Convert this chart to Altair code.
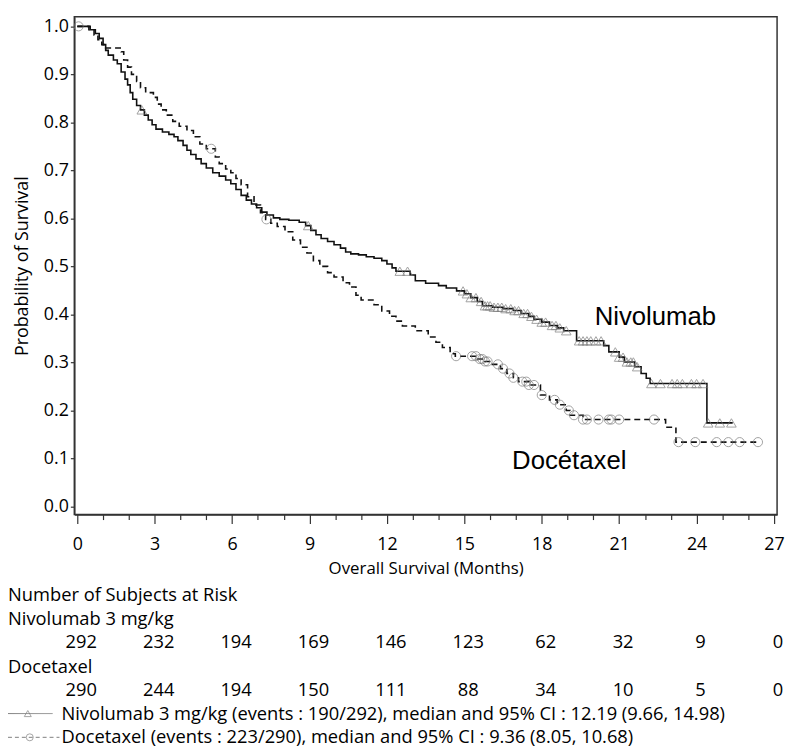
import altair as alt
import pandas as pd

# ---------------- data ----------------
nivo_t = [0, 0.5, 0.7, 0.85, 1.0, 1.1, 1.2, 1.4, 1.55, 1.7, 1.85, 1.95, 2.05, 2.15, 2.3, 2.45,
          2.6, 2.75, 2.9, 3.05, 3.3, 3.55, 3.75, 3.9, 4.1, 4.25, 4.4, 4.6, 4.8, 5.0, 5.25, 5.5,
          5.75, 5.95, 6.15, 6.35, 6.55, 6.75, 6.95, 7.15, 7.35, 7.6, 7.85, 8.2, 8.6, 8.85, 9.05,
          9.25, 9.45, 9.7, 9.95, 10.2, 10.4, 10.6, 10.9, 11.2, 11.5, 11.8, 12.0, 12.2, 12.35,
          12.9, 13.1, 13.5, 14.0, 14.3, 14.7, 15.0, 15.25, 15.5, 15.7, 16.1, 16.5, 16.9, 17.2,
          17.5, 17.7, 18.0, 18.3, 18.6, 18.85, 19.35, 20.4, 20.6, 21.0, 21.2, 21.6, 21.85, 22.05,
          22.2, 24.4]
nivo_s = [1.0, 0.993, 0.985, 0.975, 0.962, 0.95, 0.94, 0.93, 0.922, 0.905, 0.89, 0.878, 0.862,
          0.848, 0.835, 0.826, 0.815, 0.805, 0.795, 0.786, 0.78, 0.775, 0.77, 0.762, 0.752, 0.742,
          0.733, 0.724, 0.714, 0.705, 0.695, 0.688, 0.68, 0.672, 0.66, 0.648, 0.638, 0.63, 0.622,
          0.613, 0.607, 0.601, 0.598, 0.596, 0.592, 0.585, 0.575, 0.566, 0.558, 0.552, 0.545,
          0.538, 0.53, 0.526, 0.524, 0.52, 0.517, 0.512, 0.505, 0.497, 0.49, 0.482, 0.47, 0.465,
          0.46, 0.455, 0.449, 0.443, 0.435, 0.427, 0.418, 0.415, 0.412, 0.408, 0.402, 0.396, 0.39,
          0.384, 0.377, 0.372, 0.366, 0.345, 0.335, 0.322, 0.311, 0.301, 0.291, 0.277, 0.267,
          0.256, 0.174]
nivo_end = 25.4
nivo_cens = [2.5, 8.95, 12.5, 12.8, 14.95, 15.1, 15.25, 15.45, 15.65, 15.8, 15.9, 16.0, 16.15,
             16.3, 16.45, 16.6, 16.8, 16.95, 17.1, 17.3, 17.45, 17.6, 17.8, 18.0, 18.15, 18.4,
             18.55, 18.7, 18.95, 19.45, 19.6, 19.75, 19.9, 20.1, 20.3, 20.85, 21.0, 21.15, 21.3,
             21.45, 21.55, 21.7, 22.25, 22.6, 23.05, 23.25, 23.45, 23.8, 24.0, 24.25, 24.45, 24.9,
             25.35]

doce_t = [0, 0.45, 0.65, 0.8, 0.95, 1.1, 1.7, 1.8, 1.95, 2.1, 2.3, 2.45, 2.65, 2.95, 3.1, 3.25,
          3.45, 3.7, 3.95, 4.25, 4.5, 4.75, 5.0, 5.35, 5.5, 5.75, 5.95, 6.15, 6.35, 6.6, 6.85,
          7.1, 7.3, 7.5, 7.75, 8.05, 8.35, 8.65, 8.9, 9.15, 9.4, 9.7, 9.95, 10.3, 10.55, 10.8,
          11.0, 11.5, 11.8, 12.1, 12.35, 12.6, 13.1, 13.6, 13.9, 14.15, 14.45, 14.65, 15.5, 15.8,
          16.05, 16.4, 16.65, 16.9, 17.1, 17.5, 17.95, 18.3, 18.6, 18.95, 19.1, 19.6, 22.8, 23.2]
doce_s = [1.0, 0.993, 0.982, 0.972, 0.962, 0.955, 0.947, 0.93, 0.915, 0.9, 0.885, 0.872, 0.862,
          0.852, 0.838, 0.826, 0.815, 0.802, 0.792, 0.783, 0.77, 0.755, 0.745, 0.728, 0.714,
          0.703, 0.695, 0.683, 0.67, 0.645, 0.628, 0.612, 0.598, 0.59, 0.583, 0.572, 0.555, 0.54,
          0.528, 0.512, 0.5, 0.487, 0.478, 0.466, 0.457, 0.44, 0.43, 0.42, 0.407, 0.396, 0.386,
          0.376, 0.366, 0.353, 0.342, 0.331, 0.318, 0.313, 0.307, 0.302, 0.296, 0.287, 0.277,
          0.268, 0.26, 0.253, 0.232, 0.222, 0.212, 0.2, 0.19, 0.181, 0.165, 0.134]
doce_end = 26.4
doce_cens = [0.05, 5.19, 7.33, 14.68, 15.3, 15.45, 15.6, 15.7, 15.8, 15.9, 16.3, 16.5, 16.75,
             16.9, 17.25, 17.4, 17.5, 17.7, 18.0, 18.5, 18.7, 19.05, 19.25, 19.6, 19.75, 20.2,
             20.6, 20.7, 21.0, 22.35, 23.3, 23.95, 24.78, 25.23, 25.67, 26.38]

risk_months = [0, 3, 6, 9, 12, 15, 18, 21, 24, 27]
nivo_risk = [292, 232, 194, 169, 146, 123, 62, 32, 9, 0]
doce_risk = [290, 244, 194, 150, 111, 88, 34, 10, 5, 0]

curve_labels = ["Nivolumab", "Docétaxel"]
curve_label_x = [20.05, 16.85]
curve_label_y = [0.377, 0.078]

x_ticks = list(range(0, 28))
y_ticks = [0.0, 0.1, 0.2, 0.3, 0.4, 0.5, 0.6, 0.7, 0.8, 0.9, 1.0]

risk_header = "Number of Subjects at Risk"
nivo_row_label = "Nivolumab 3 mg/kg"
doce_row_label = "Docetaxel"
nivo_legend = "Nivolumab 3 mg/kg (events : 190/292), median and 95% CI : 12.19 (9.66, 14.98)"
doce_legend = "Docetaxel (events : 223/290), median and 95% CI : 9.36 (8.05, 10.68)"

assert len(nivo_t) == len(nivo_s)
assert len(doce_t) == len(doce_s)

# ---------------- helpers ----------------
def step_frame(ts, ss, end):
    return pd.DataFrame({"t": ts + [end], "s": ss + [ss[-1]]})


def km_at(ts, ss, c):
    val = ss[0]
    for t, s in zip(ts, ss):
        if t <= c:
            val = s
    return val


nivo_df = step_frame(nivo_t, nivo_s, nivo_end)
doce_df = step_frame(doce_t, doce_s, doce_end)
nivo_c_df = pd.DataFrame({"t": nivo_cens, "s": [km_at(nivo_t, nivo_s, c) for c in nivo_cens]})
doce_c_df = pd.DataFrame({"t": doce_cens, "s": [km_at(doce_t, doce_s, c) for c in doce_cens]})
label_df = pd.DataFrame({"t": curve_label_x, "s": curve_label_y, "label": curve_labels})
nivo_risk_df = pd.DataFrame({"t": risk_months, "n": nivo_risk})
doce_risk_df = pd.DataFrame({"t": risk_months, "n": doce_risk})

FONT = "Open Sans"
TFS = 18.5
xscale = alt.Scale(domain=[-0.115, 27.12], nice=False, zero=False)
yscale = alt.Scale(domain=[-0.017, 1.02], nice=False, zero=False)

x_axis = alt.Axis(
    values=x_ticks,
    tickSize={"condition": {"test": "datum.value % 3 === 0", "value": 9}, "value": 5},
    labelExpr="datum.value % 3 === 0 ? datum.label : ''",
    labelFlush=False,
    labelOverlap=False,
    labelPadding=12,
    labelFontSize=18,
    title="Overall Survival (Months)",
    titleFontSize=17,
    titlePadding=7,
)
y_axis = alt.Axis(
    values=y_ticks,
    format=".1f",
    tickSize=4,
    labelPadding=2,
    labelFontSize=18,
    title="Probability of Survival",
    titleFontSize=18,
    titlePadding=12,
)

X = alt.X("t:Q", scale=xscale, axis=x_axis)
Y = alt.Y("s:Q", scale=yscale, axis=y_axis)

nivo_line = alt.Chart(nivo_df).mark_line(
    interpolate="step-after", color="#111111", strokeWidth=1.6
).encode(x=X, y=Y)

doce_line = alt.Chart(doce_df).mark_line(
    interpolate="step-after", color="#111111", strokeWidth=1.6, strokeDash=[6, 4]
).encode(x=X, y=Y)

nivo_pts = alt.Chart(nivo_c_df).mark_point(
    shape="triangle-up", filled=False, color="#7a7a7a", size=95, strokeWidth=1
).encode(x=X, y=Y)

doce_pts = alt.Chart(doce_c_df).mark_point(
    shape="circle", filled=False, color="#7a7a7a", size=85, strokeWidth=1
).encode(x=X, y=Y)

curve_text = alt.Chart(label_df).mark_text(
    align="left", baseline="alphabetic", font="Liberation Sans", fontSize=26, color="black"
).encode(x=X, y=Y, text="label:N")


def fixed_text(txt, xpix, ypix):
    return alt.Chart(pd.DataFrame({"label": [txt]})).mark_text(
        align="left", baseline="middle", font=FONT, fontSize=TFS, color="black"
    ).encode(x=alt.value(xpix), y=alt.value(ypix), text="label:N")


def risk_row(df, ypix):
    return alt.Chart(df).mark_text(
        align="center", baseline="middle", font=FONT, fontSize=TFS, color="black", dx=4
    ).encode(x=X, y=alt.value(ypix), text="n:Q")


def legend_glyph(x1, x2, ypix, dash, xsym, shape):
    line = alt.Chart(pd.DataFrame({"k": [0]})).mark_rule(
        color="#808080", strokeWidth=1, strokeDash=dash
    ).encode(x=alt.value(x1), x2=alt.value(x2), y=alt.value(ypix))
    sym = alt.Chart(pd.DataFrame({"k": [0]})).mark_point(
        shape=shape, filled=False, color="#808080", size=50, strokeWidth=1
    ).encode(x=alt.value(xsym), y=alt.value(ypix))
    return [line, sym]


layers = [
    nivo_line, doce_line, nivo_pts, doce_pts, curve_text,
    fixed_text(risk_header, -67, 584),
    fixed_text(nivo_row_label, -67, 609),
    risk_row(nivo_risk_df, 632),
    fixed_text(doce_row_label, -67, 657),
    risk_row(doce_risk_df, 680),
    *legend_glyph(-67, -22, 704, [1, 0], -47, "triangle-up"),
    fixed_text(nivo_legend, -13, 704),
    *legend_glyph(-67, -15, 728, [4, 3], -45, "circle"),
    fixed_text(doce_legend, -13, 728),
]

chart = alt.layer(*layers).properties(
    width=710,
    height=503,
    autosize=alt.AutoSizeParams(type="none"),
    padding={"left": 67, "top": 5, "right": 8, "bottom": 236},
).configure_view(
    stroke="#333333", strokeWidth=1.5
).configure_axis(
    grid=False,
    domainColor="#333333",
    domainWidth=1.5,
    tickColor="#333333",
    tickWidth=1.2,
    labelFont=FONT,
    labelColor="black",
    titleFont=FONT,
    titleFontWeight="normal",
    titleColor="black",
)

chart.save("out.html", embed_options={"renderer": "svg", "actions": False})
